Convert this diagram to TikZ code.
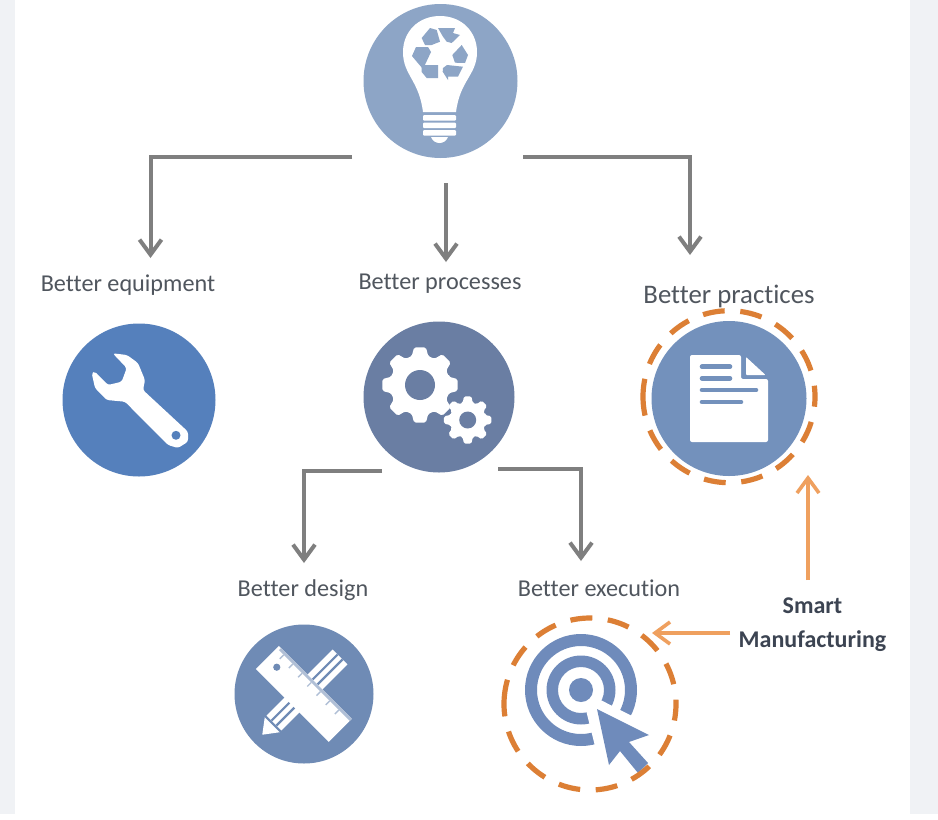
\documentclass[tikz,border=0pt]{standalone}
\usepackage{fontspec}
\setmainfont[Ligatures=NoCommon]{Carlito}
\usetikzlibrary{arrows.meta}
\definecolor{pagegrey}{HTML}{F0F2F5}
\definecolor{linegrey}{HTML}{7F7F7F}
\definecolor{txtgrey}{HTML}{50565E}
\definecolor{smtxtc}{HTML}{3C4452}
\definecolor{ring}{HTML}{DC7F35}
\definecolor{arroworange}{HTML}{EFA05F}
\definecolor{bulb}{HTML}{8DA5C6}
\definecolor{wrench}{HTML}{5580BC}
\definecolor{gears}{HTML}{6A7EA3}
\definecolor{doc}{HTML}{7391BC}
\definecolor{pen}{HTML}{6F8BB5}
\definecolor{target}{HTML}{6F8BBB}
\tikzset{
  x=1pt,y=-1pt,
  disc/.style={circle,inner sep=0pt,outer sep=0pt,minimum size=#1},
  lbl/.style={inner sep=0pt,anchor=base,text=txtgrey,font=\fontsize{24.2}{28}\selectfont},
  conn/.style={draw=linegrey,line width=4pt,-{Straight Barb[length=15pt,width=22pt,line width=4pt]}},
  sm/.style={draw=arroworange,line width=3.6pt,-{Straight Barb[length=15pt,width=22pt,line width=3.6pt]}},
  dashring/.style={draw=ring,line width=5.2pt,dash pattern=on 22pt off #1 on 22pt off #1 on 22pt off #1 on 22pt off #1 on 22pt off #1 on 22pt off #1 on 22pt off #1 on 37pt off #1 on 22pt off #1 on 22pt off #1 on 22pt off #1 on 22pt off #1 on 22pt off #1 on 22pt off #1},
  smtxt/.style={inner sep=0pt,anchor=base,text=smtxtc,font=\bfseries\fontsize{24}{28}\selectfont},
}
\newcommand{\gearshape}[5]{% x y outer inner teeth
  \fill[white,rounded corners=1.6pt] ({#1+#4*cos(-16)},{#2+#4*sin(-16)})
  \foreach \k in {1,...,#5}{
    -- ({#1+#3*cos(360/#5*(\k-1)-9)},{#2+#3*sin(360/#5*(\k-1)-9)})
    -- ({#1+#3*cos(360/#5*(\k-1)+9)},{#2+#3*sin(360/#5*(\k-1)+9)})
    -- ({#1+#4*cos(360/#5*(\k-1)+16)},{#2+#4*sin(360/#5*(\k-1)+16)})
    -- ({#1+#4*cos(360/#5*\k-16)},{#2+#4*sin(360/#5*\k-16)})
  } -- cycle;}
\begin{document}
\begin{tikzpicture}
\useasboundingbox (0,0) rectangle (938,820);
\fill[white] (0,0) rectangle (938,820);
\fill[pagegrey] (0,0) rectangle (15,814);
\fill[pagegrey] (910,0) rectangle (938,814);

% ---- discs
\node[disc=154pt,fill=bulb] (top) at (440.5,81) {};
\node[disc=153pt,fill=wrench] (equip) at (139,400) {};
\node[disc=151pt,fill=gears] (proc) at (439,397) {};
\node[disc=155pt,fill=doc] (prac) at (729,398.5) {};
\node[disc=139pt,fill=pen] (design) at (304,694) {};

% ---- labels
\node[lbl] (lequip) at (128,291) {Better equipment};
\node[lbl] (lproc) at (440,289.5) {Better processes};
\node[lbl,font=\fontsize{26.8}{30}\selectfont] (lprac) at (729,303) {Better practices};
\node[lbl] (ldesign) at (303,596) {Better design};
\node[lbl] (lexec) at (599,596) {Better execution};
\node[smtxt] (sm1) at (812.5,613) {Smart};
\node[smtxt] (sm2) at (812.5,647.5) {Manufacturing};

% ---- coordinates for connector ends
\coordinate (t1) at (352,156.5);
\coordinate (t2) at (446,183);
\coordinate (t3) at (523,156.5);
\coordinate (e1) at (150.5,258);
\coordinate (e2) at (446,262);
\coordinate (e3) at (690,255);
\coordinate (p1) at (382,470.5);
\coordinate (p2) at (498,469);
\coordinate (d1) at (304,563);
\coordinate (d2) at (581,561);
\coordinate (s1) at (808,580);
\coordinate (s2) at (808,475);
\coordinate (s3) at (730,633);
\coordinate (s4) at (652,633);

\draw[conn] (t1) -| (e1);
\draw[conn] (t2) -- (e2);
\draw[conn] (t3) -| (e3);
\draw[conn] (p1) -| (d1);
\draw[conn] (p2) -| (d2);
\draw[sm] (s1) -- (s2);
\draw[sm] (s3) -- (s4);

% ---- bulb icon
\fill[white] (440,16) .. controls (462,16) and (477,32) .. (477,52)
  .. controls (477,75) and (460,80) .. (456,112) -- (423,112)
  .. controls (419,80) and (403,75) .. (403,52)
  .. controls (403,32) and (418,16) .. (440,16) -- cycle;
\foreach \yy in {115,122.5,130}{\fill[white,rounded corners=1pt] (423,\yy) rectangle (456,\yy+5.5);}
\fill[white] (431,137) .. controls (434,145) and (445,145) .. (448,137) -- cycle;
% recycle symbol
\fill[bulb] (421.7,38) -- (430,28) -- (436.7,30) -- (440,41.7) -- (431.7,45) -- (425,45) -- cycle;
\fill[bulb] (438,28) -- (455,28) -- (453,33) -- (460,35) -- (451.7,43) -- (446.7,41.7) -- (443,36.7) -- cycle;
\fill[bulb] (461.7,45) -- (468,55) -- (465,63) -- (455,62.7) -- (452.3,55) -- cycle;
\fill[bulb] (416,47) -- (428,47) -- (431,52) -- (423,69) -- (417,62) -- (412,56) -- cycle;
\fill[bulb] (421.7,65) -- (438,65) -- (438,78) -- (426.7,78) -- (421.7,72) -- cycle;
\fill[bulb] (443,68) -- (447,65) -- (463,66.7) -- (458,76.7) -- (448,76.7) -- (448,80) -- (442.7,71.7) -- cycle;

% ---- wrench icon
\fill[white,rounded corners=2.5pt] (112.7,353.3) -- (127,355) -- (138,363) -- (145,380) -- (143,390)
  -- (188,431.7) -- (188,441.7) -- (178,448) -- (168,445) -- (125,401.7) -- (106.7,400)
  -- (95,388) -- (91.7,373) -- (95,371.7) -- (108,385) -- (121.7,381.7) -- (126.7,368) -- cycle;
\fill[wrench] (176,435.3) circle (4.5pt);

% ---- gears icon
\gearshape{420}{385}{38}{30}{8}
\fill[gears] (420,385) circle (15pt);
\gearshape{467.7}{420}{24}{18}{8}
\fill[gears] (467.7,420) circle (8.5pt);

% ---- document icon
\fill[white,rounded corners=2pt] (690,355) -- (741,355) -- (741,379) -- (768,379) -- (768,442) -- (690,442) -- cycle;
\fill[white,rounded corners=.8pt] (746,357) -- (765.5,375) -- (746,375) -- cycle;
\foreach \yy/\xe in {366.7/730,378.3/730,390/756,402/741}{
  \draw[doc,line width=4.6pt,line cap=round] (702,\yy) -- (\xe,\yy);}

% ---- pencil and ruler icon (local x runs along the pencil, y along the ruler)
\begin{scope}[shift={(304,693)},rotate=45]
  \fill[white] (-59,0) -- (-45,-10.5) -- (-45,10.5) -- cycle;
  \fill[white] (-42.5,-10.5) rectangle (51,10.5);
  \fill[pen] (-42.5,-4.6) rectangle (51,-2.4);
  \fill[pen] (-42.5,2.4) rectangle (51,4.6);
  \fill[white] (-17,-51) rectangle (15.5,52);
  \fill[pen!55!white] (12.6,-48) rectangle (15.5,52);
  \foreach \tt in {-42,-29,...,45}{\fill[pen!55!white] (7,\tt) rectangle (12.6,\tt+1.4);}
  \fill[pen] (-1,-37.5) circle (3.6pt);
\end{scope}

% ---- target icon
\fill[target,even odd rule] (581,690) circle (56pt) circle (44pt);
\fill[target,even odd rule] (581,690) circle (34.5pt) circle (23pt);
\fill[white] (581,690) -- ({581+62*cos(27)},{690+62*sin(27)}) -- ({581+62*cos(50)},{690+62*sin(50)}) -- ({581+62*cos(76)},{690+62*sin(76)}) -- cycle;
\fill[target] (581,690) circle (12pt);
\fill[target] (597,709) -- (649,735) -- (629,742) -- (648,763) -- (638,773) -- (620,751) -- (609,765) -- cycle;

% ---- dashed rings, drawn last so they lie over the icons
\node[disc=172pt,dashring=15.6pt,dash phase=17.6pt] (execring) at (590,704) {};
\node[disc=172pt,dashring=15.6pt,dash phase=11pt] (pracring) at (729,396.7) {};
\end{tikzpicture}
\end{document}
